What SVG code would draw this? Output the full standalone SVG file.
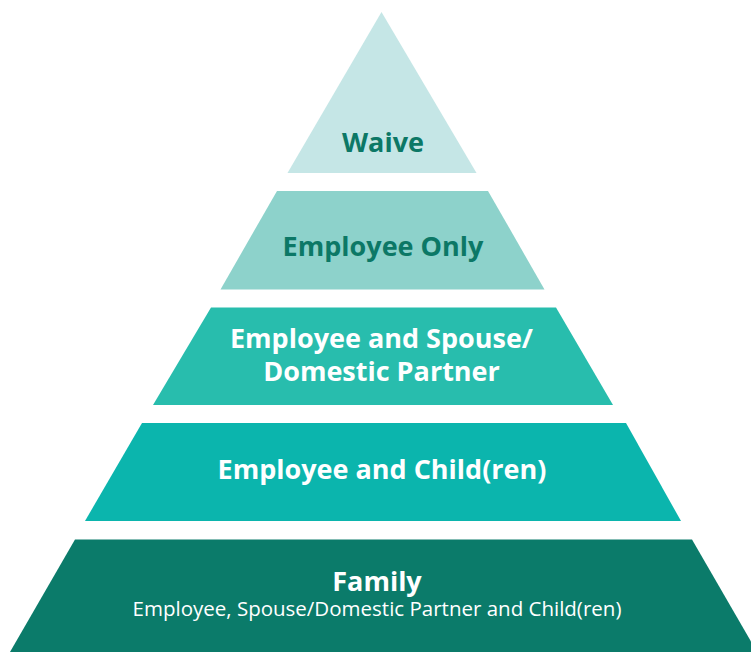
<svg xmlns="http://www.w3.org/2000/svg" width="751" height="652" viewBox="0 0 751 652">
<style>
.t{font-family:"Open Sans","Noto Sans","Liberation Sans",sans-serif;font-weight:700;font-size:27px;text-anchor:middle}
.dk{fill:#0C7866}
.wh{fill:#FFFFFF}
.sub{font-family:"Open Sans","Noto Sans","Liberation Sans",sans-serif;font-weight:400;font-size:20.5px;text-anchor:middle;fill:#FFFFFF}
</style>
<rect width="751" height="652" fill="#FFFFFF"/>
<g id="waive">
<polygon points="381.5,12 476.5,173 287.5,173" fill="#C5E6E6"/>
<text class="t dk" x="383" y="152">Waive</text>
</g>
<g id="employee-only">
<polygon points="277,191 488,191 544.5,289.5 220.5,289.5" fill="#8DD2CB"/>
<text class="t dk" x="383" y="256">Employee Only</text>
</g>
<g id="employee-spouse">
<polygon points="211,307.5 556,307.5 613,405 153,405" fill="#28BDAD"/>
<text class="t wh" x="381.5" y="348">Employee and Spouse/</text>
<text class="t wh" x="381.5" y="381">Domestic Partner</text>
</g>
<g id="employee-children">
<polygon points="142,423 626,423 681,521 85,521" fill="#0BB5AD"/>
<text class="t wh" x="382" y="479">Employee and Child(ren)</text>
</g>
<g id="family">
<polygon points="75,539.5 692,539.5 757,652 10,652" fill="#0B7B6A"/>
<text class="t wh" x="377" y="591">Family</text>
<text class="sub" x="377" y="616">Employee, Spouse/Domestic Partner and Child(ren)</text>
</g>
<g id="connectors"/>
</svg>
